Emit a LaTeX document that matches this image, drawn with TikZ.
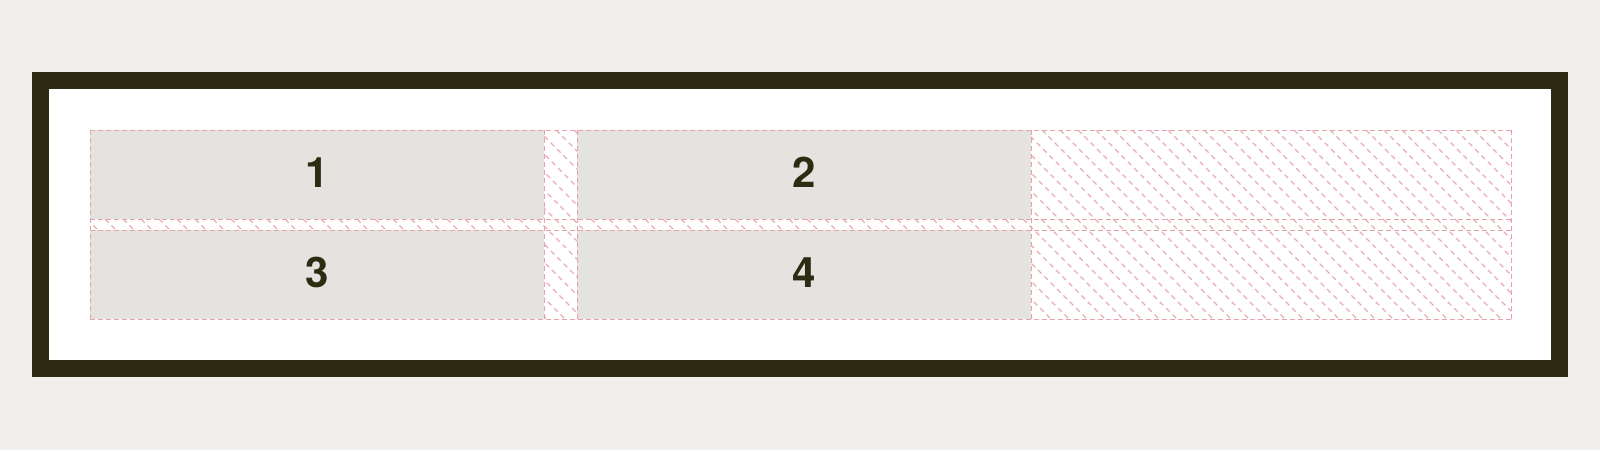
\documentclass[tikz,border=0pt]{standalone}
\usepackage{fontspec}
\setmainfont{TeX Gyre Heros}
\definecolor{bgc}{HTML}{F0EFEB}
\definecolor{framec}{HTML}{2D2C13}
\definecolor{cellc}{HTML}{E4E3DF}
\definecolor{pinkc}{HTML}{E6A4AA}
\tikzset{
  cellbox/.style={fill=cellc, draw=none, inner sep=0pt, minimum width=454pt, minimum height=89pt,
    text=framec, font=\fontsize{42}{42}\selectfont\bfseries},
  celltext/.style={text=framec, inner sep=0pt, font=\fontsize{42}{42}\selectfont\bfseries},
  hatchline/.style={draw=pinkc, line width=1.1pt, dash pattern=on 5pt off 4pt, opacity=0.9},
  gridline/.style={draw=pinkc, line width=1pt, dash pattern=on 5pt off 3pt}
}
\begin{document}
\begin{tikzpicture}[x=1pt,y=-1pt]
\useasboundingbox[fill=bgc] (0,0) rectangle (1600,450);
\fill[framec] (32,72) rectangle (1568,377);
\fill[white] (49,89) rectangle (1551,360);
\begin{scope}
  \clip (90,130) rectangle (1511,319);
  \foreach \x in {-110,-92,...,1520} \draw[hatchline] (\x,130) -- ++(195,195);
\end{scope}
\node[cellbox] (c1) at (317,174.5) {};
\node[cellbox] (c2) at (804,174.5) {};
\node[cellbox] (c3) at (317,274.5) {};
\node[cellbox] (c4) at (804,274.5) {};
\node[celltext] (t1) at ([yshift=2pt]c1.center) {1};
\node[celltext] (t2) at ([yshift=2pt]c2.center) {2};
\node[celltext] (t3) at ([yshift=2pt]c3.center) {3};
\node[celltext] (t4) at ([yshift=2pt]c4.center) {4};
\foreach \x in {90,544,577,1031,1511} \draw[gridline] (\x,130) -- (\x,319);
\foreach \y in {130,219,230,319} \draw[gridline] (90,\y) -- (1511,\y);
\end{tikzpicture}
\end{document}
